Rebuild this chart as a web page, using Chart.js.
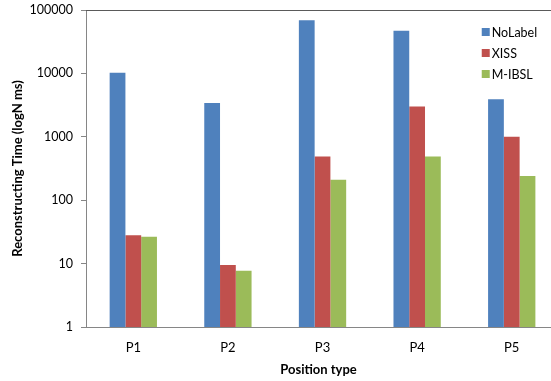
<!DOCTYPE html>
<html>
<head>
<meta charset="utf-8">
<script src="https://cdn.jsdelivr.net/npm/chart.js@4/dist/chart.umd.min.js"></script>
<style>
  html, body { margin: 0; padding: 0; overflow: hidden; background: #ffffff; }
  #wrap { width: 551px; height: 381px; }
</style>
</head>
<body>
<div id="wrap"><canvas id="c" width="551" height="381"></canvas></div>
<script>
// Reconstruction time per position type (ms, log scale)
const categories = ['P1', 'P2', 'P3', 'P4', 'P5'];
const noLabel = [10200, 3400, 69000, 47000, 3900];
const xiss = [28, 9.5, 490, 3000, 1000];
const mIbsl = [26.5, 7.7, 210, 490, 240];
const yTicks = [1, 10, 100, 1000, 10000, 100000];
const seriesNames = ['NoLabel', 'XISS', 'M-IBSL'];
const seriesColors = ['#4F81BD', '#C0504D', '#9BBB59'];

const FONT = 'Lato, "Open Sans", sans-serif';

// Legend drawn inside the plot area, top-right, stacked vertically
const insideLegend = {
  id: 'insideLegend',
  afterDraw(chart) {
    const { ctx, chartArea, scales } = chart;
    const x0 = scales.x.getPixelForValue(4) - 30;
    const y0 = chartArea.top + 22;
    ctx.save();
    ctx.font = '12.5px ' + FONT;
    ctx.textBaseline = 'middle';
    ctx.textAlign = 'left';
    chart.data.datasets.forEach((ds, i) => {
      const y = y0 + i * 21;
      ctx.fillStyle = ds.backgroundColor;
      ctx.fillRect(x0, y - 4, 8, 8);
      ctx.fillStyle = '#000000';
      ctx.fillText(ds.label, x0 + 10, y + 0.5);
    });
    ctx.restore();
  }
};

// Top edge of the plot frame
const frameTop = {
  id: 'frameTop',
  afterDraw(chart) {
    const { ctx, chartArea } = chart;
    ctx.save();
    ctx.strokeStyle = '#5a5a5a';
    ctx.lineWidth = 1;
    ctx.beginPath();
    ctx.moveTo(chartArea.left, chartArea.top + 0.5);
    ctx.lineTo(chart.width, chartArea.top + 0.5);
    ctx.stroke();
    ctx.restore();
  }
};

// Scales carry no extra edge padding; the plot area runs to the canvas edge
const noEdgePadding = s => {
  s.paddingTop = 0; s.paddingBottom = 0; s.paddingLeft = 0; s.paddingRight = 0;
};

const values = [noLabel, xiss, mIbsl];

new Chart(document.getElementById('c'), {
  type: 'bar',
  data: {
    datasets: seriesNames.map((name, i) => ({
      label: name,
      data: values[i].map((v, k) => ({ x: k, y: v })),
      backgroundColor: seriesColors[i],
      borderWidth: 0,
      categoryPercentage: 0.5,
      barPercentage: 1.0
    }))
  },
  options: {
    responsive: false,
    animation: false,
    devicePixelRatio: 1,
    layout: { padding: { top: 10, left: 0, right: 0, bottom: 0 } },
    plugins: {
      legend: { display: false },
      tooltip: { enabled: false }
    },
    scales: {
      x: {
        type: 'linear',
        min: -0.5,
        max: 4.415,
        offset: false,
        afterBuildTicks: s => { s.ticks = categories.map((c, k) => ({ value: k })); },
        afterFit: s => { s.height = 54; noEdgePadding(s); },
        grid: { display: false, drawTicks: false },
        border: { display: true, color: '#868686' },
        ticks: {
          color: '#000000', padding: 13,
          font: { family: FONT, size: 13 },
          callback: v => categories[v]
        },
        title: {
          display: true, text: 'Position type', color: '#000000',
          font: { family: FONT, size: 13, weight: 'bold' },
          padding: { top: 4, bottom: 3 }
        }
      },
      y: {
        type: 'logarithmic',
        min: 1,
        max: 100000,
        afterBuildTicks: s => { s.ticks = yTicks.map(v => ({ value: v })); },
        afterFit: s => { s.width = 86; noEdgePadding(s); },
        grid: { drawOnChartArea: false, drawTicks: true, tickLength: 5, color: '#868686' },
        border: { color: '#868686' },
        ticks: {
          color: '#000000', padding: 8,
          font: { family: FONT, size: 12.5 },
          callback: v => String(v)
        },
        title: {
          display: true, text: 'Reconstructing Time (logN ms)', color: '#000000',
          font: { family: FONT, size: 13, weight: 'bold' },
          padding: { top: 10, bottom: 0 }
        }
      }
    }
  },
  plugins: [insideLegend, frameTop]
});
</script>
</body>
</html>
